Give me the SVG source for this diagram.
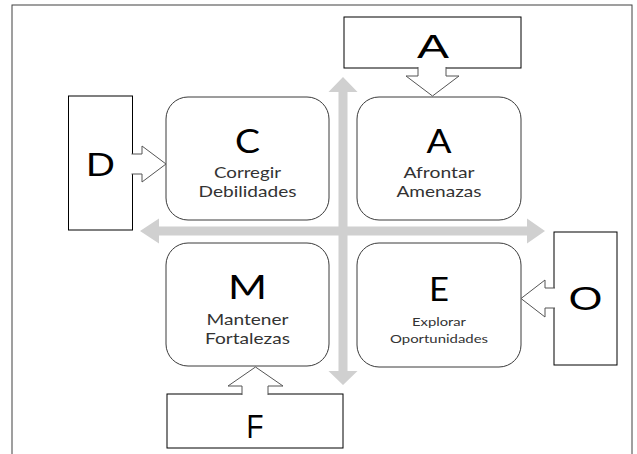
<svg xmlns="http://www.w3.org/2000/svg" width="637" height="454" viewBox="0 0 637 454">
<style>
.frame{fill:none;stroke:#404040;stroke-width:1}
.box{fill:#fff;stroke:#000;stroke-width:1}
.rbox{fill:#fff;stroke:#3a3a3a;stroke-width:1}
.axis{fill:#d0d0d0;stroke:none}
.barrow{fill:#fff;stroke:#555;stroke-width:1;stroke-linejoin:miter}
.big{font-family:"Liberation Sans",Arial,sans-serif;font-size:34px;fill:#000;text-anchor:middle}
.mid{font-family:Lato,"Open Sans",sans-serif;font-size:33px;fill:#000;text-anchor:middle}
.lbl{font-family:Lato,"Open Sans",sans-serif;font-size:15px;fill:#333;text-anchor:middle}
.sml{font-family:Lato,"Open Sans",sans-serif;font-size:12px;fill:#333;text-anchor:middle}
</style>
<rect width="637" height="454" fill="#fff"/>
<rect class="frame" x="12" y="5" width="620" height="460"/>

<g id="axes">
<polygon class="axis" points="343,77 357.5,92 347.5,92 347.5,371 357.5,371 343,385 328.5,371 338.5,371 338.5,92 328.5,92"/>
<polygon class="axis" points="140,231 159,218.5 159,226.5 527,226.5 527,218.5 545,231 527,243.5 527,235.5 159,235.5 159,243.5"/>
</g>

<g id="node-C">
<rect class="rbox" x="166" y="97" width="163" height="123" rx="22" ry="22"/>
<text class="mid" x="247.5" y="153" textLength="25" lengthAdjust="spacingAndGlyphs">C</text>
<text class="lbl" x="247.5" y="178" textLength="67" lengthAdjust="spacingAndGlyphs">Corregir</text>
<text class="lbl" x="247.5" y="197" textLength="98" lengthAdjust="spacingAndGlyphs">Debilidades</text>
</g>
<g id="node-A-inner">
<rect class="rbox" x="357" y="97" width="164" height="123" rx="22" ry="22"/>
<text class="mid" x="439" y="153" textLength="25" lengthAdjust="spacingAndGlyphs">A</text>
<text class="lbl" x="439" y="178" textLength="71" lengthAdjust="spacingAndGlyphs">Afrontar</text>
<text class="lbl" x="439" y="197" textLength="85" lengthAdjust="spacingAndGlyphs">Amenazas</text>
</g>
<g id="node-M">
<rect class="rbox" x="166" y="243" width="163" height="123" rx="22" ry="22"/>
<text class="mid" x="247.5" y="299" textLength="39" lengthAdjust="spacingAndGlyphs">M</text>
<text class="lbl" x="247.5" y="325" textLength="82" lengthAdjust="spacingAndGlyphs">Mantener</text>
<text class="lbl" x="247.5" y="344" textLength="85" lengthAdjust="spacingAndGlyphs">Fortalezas</text>
</g>
<g id="node-E">
<rect class="rbox" x="357" y="243" width="164" height="124" rx="22" ry="22"/>
<text class="mid" x="439" y="301" textLength="20" lengthAdjust="spacingAndGlyphs">E</text>
<text class="sml" x="439" y="326" textLength="54" lengthAdjust="spacingAndGlyphs">Explorar</text>
<text class="sml" x="439" y="343" textLength="98" lengthAdjust="spacingAndGlyphs">Oportunidades</text>
</g>

<g id="node-A-top">
<rect class="box" x="344" y="17" width="177" height="51"/>
<text class="big" x="433" y="58" textLength="32" lengthAdjust="spacingAndGlyphs">A</text>
</g>
<g id="node-D">
<rect class="box" x="68.5" y="96" width="64" height="134"/>
<text class="big" x="100.5" y="176" textLength="29" lengthAdjust="spacingAndGlyphs">D</text>
</g>
<g id="node-O">
<rect class="box" x="554" y="232" width="63" height="133"/>
<text class="big" x="585.5" y="310" textLength="34" lengthAdjust="spacingAndGlyphs">O</text>
</g>
<g id="node-F">
<rect class="box" x="167" y="394" width="176" height="54"/>
<text class="big" x="255" y="438" textLength="17" lengthAdjust="spacingAndGlyphs">F</text>
</g>

<g id="connectors">
<path class="barrow" d="M418,67 V76 H406 L432.5,96 L459,76 H446 V67"/>
<path class="barrow" d="M131.5,154 H142 V146 L166,164 L142,182 V174 H131.5"/>
<path class="barrow" d="M555,288 H545 V280 L521,298.5 L545,317 V308 H555"/>
<path class="barrow" d="M242,395 V386 H228 L255.5,367 L283,386 H268 V395"/>
</g>
</svg>
